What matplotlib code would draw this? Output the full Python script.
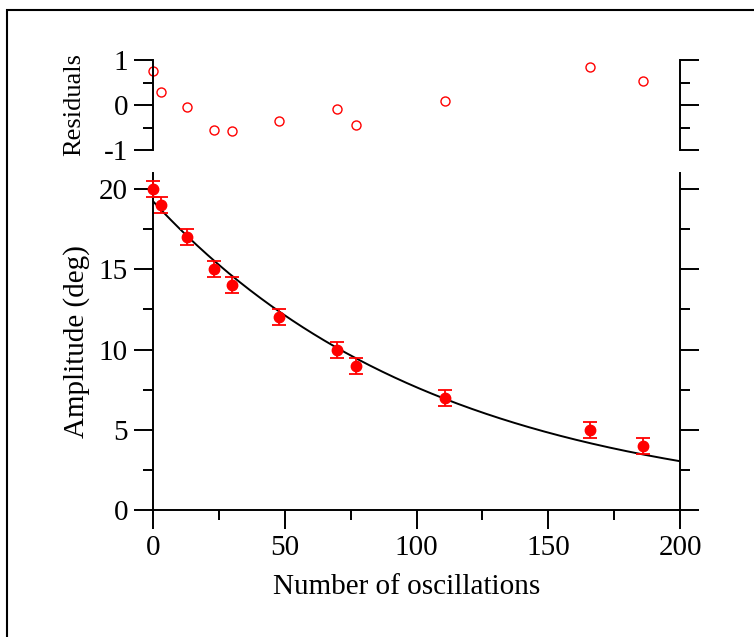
import numpy as np
import matplotlib
matplotlib.use("Agg")
import matplotlib.pyplot as plt
from matplotlib.ticker import MultipleLocator
from matplotlib.patches import Rectangle

plt.rcParams['font.family'] = ['Liberation Serif', 'DejaVu Serif']
plt.rcParams['axes.unicode_minus'] = False

# data
oscillations = [0, 3, 13, 23, 30, 48, 70, 77, 111, 166, 186]
amplitude = [20, 19, 17, 15, 14, 12, 10, 9, 7, 5, 4]
amp_err = [0.5] * 11
residuals = [0.76, 0.29, -0.04, -0.56, -0.58, -0.36, -0.09, -0.44, 0.09, 0.84, 0.53]

# exponential fit parameters (estimated from the drawn curve)
fit_a0 = 19.24
fit_tau = 108.4

W, H = 754, 637
fig = plt.figure(figsize=(W / 100, H / 100), dpi=100)

# outer frame (cropped on right and bottom)
fig.patches.append(Rectangle((7 / W, -0.1), 1.2, (H - 10) / H + 0.1,
                             transform=fig.transFigure, fill=False,
                             edgecolor='black', linewidth=1.5))

ax = fig.add_axes([153 / W, (H - 510) / H, 527 / W, 337 / H])
axr = fig.add_axes([153 / W, (H - 150) / H, 527 / W, 90 / H])

# main panel
xfit = np.linspace(0, 200, 300)
ax.plot(xfit, fit_a0 * np.exp(-xfit / fit_tau), color='black', lw=1.4, zorder=2)
ax.errorbar(oscillations, amplitude, yerr=amp_err, fmt='o', color='red',
            ms=7.5, capsize=5, elinewidth=1.3, capthick=1.3, zorder=3,
            clip_on=False)

ax.set_xlim(0, 200)
ax.set_ylim(0, 21)
ax.spines['top'].set_visible(False)
for s in ax.spines.values():
    s.set_linewidth(1.4)
ax.xaxis.set_major_locator(MultipleLocator(50))
ax.xaxis.set_minor_locator(MultipleLocator(25))
ax.yaxis.set_major_locator(MultipleLocator(5))
ax.yaxis.set_minor_locator(MultipleLocator(2.5))
ax.tick_params(which='both', direction='out', right=True, width=1.4, labelsize=21)
ax.tick_params(which='major', length=14, pad=4)
ax.tick_params(which='minor', length=7)
ax.set_xlabel('Number of oscillations', fontsize=21, labelpad=9, x=0.481)
ax.set_ylabel('Amplitude (deg)', fontsize=21, labelpad=6)

# residuals panel
axr.plot(oscillations, residuals, 'o', mfc='none', mec='red', ms=6.5, mew=1.0,
         clip_on=False)
axr.set_xlim(0, 200)
axr.set_ylim(-1, 1)
axr.spines['top'].set_visible(False)
axr.spines['bottom'].set_visible(False)
for s in axr.spines.values():
    s.set_linewidth(1.4)
axr.set_xticks([])
axr.yaxis.set_major_locator(MultipleLocator(1))
axr.yaxis.set_minor_locator(MultipleLocator(0.5))
axr.tick_params(which='both', direction='out', right=True, width=1.4, labelsize=21)
axr.tick_params(which='major', length=14, pad=4)
axr.tick_params(which='minor', length=7)
axr.set_ylabel('Residuals', fontsize=19, labelpad=13)

fig.savefig('out.png', dpi=100)
